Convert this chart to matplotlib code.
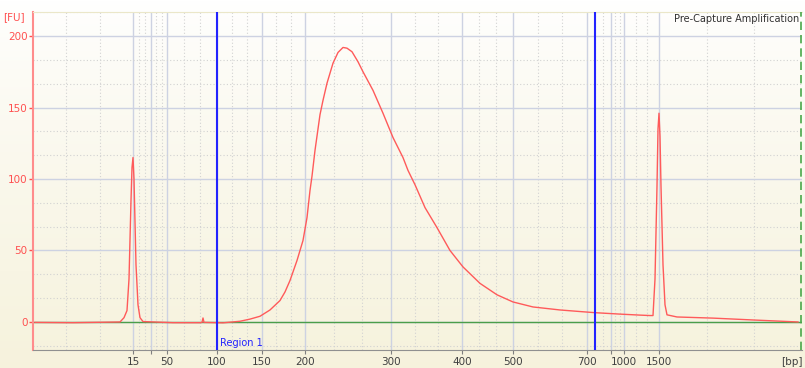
import numpy as np
import matplotlib
matplotlib.use("Agg")
import matplotlib.pyplot as plt

# ladder (bp) and the migration time (s) where each size runs
ladder_bp = [15, 25, 50, 100, 150, 200, 300, 400, 500, 700, 850, 1000, 1500]
ladder_time = [50.0, 51.8, 53.4, 58.4, 62.9, 67.2, 75.8, 82.9, 88.0, 95.4, 97.8, 99.1, 102.6]
hidden_labels = [25, 850]

# electropherogram trace: time (s) vs fluorescence (FU)
trace_time = [40.2, 44.0, 48.7, 49.1, 49.4, 49.6, 49.8, 49.9, 50.0, 50.1, 50.2, 50.3,
              50.5, 50.7, 51.0, 54.0, 56.7, 56.9, 57.0, 57.1, 59.0, 60.7, 61.7, 62.7,
              63.7, 64.7, 65.2, 65.7, 66.4, 67.0, 67.4, 67.7, 67.9, 68.2, 68.7, 69.0,
              69.4, 70.0, 70.5, 71.0, 71.4, 71.9, 72.5, 73.0, 74.0, 75.0, 76.0, 77.0,
              77.5, 78.2, 79.2, 80.4, 81.7, 83.0, 84.7, 86.4, 88.0, 90.0, 92.7, 94.7,
              96.2, 98.7, 100.7, 101.7, 102.0, 102.2, 102.4, 102.5, 102.6, 102.7, 102.8,
              103.0, 103.2, 103.4, 104.4, 108.0, 112.0, 116.5]
trace_fu = [-0.3, -0.5, 0.0, 3.0, 8.0, 30.0, 85.0, 108.0, 115.0, 100.0, 70.0, 40.0,
            12.0, 3.0, 0.3, -0.5, -0.5, -0.3, 2.8, -0.3, -0.6, 0.5, 2.0, 4.0,
            8.4, 15.0, 21.0, 29.0, 43.0, 57.0, 73.0, 92.0, 102.0, 120.0, 145.0, 155.0,
            167.0, 181.0, 188.5, 192.0, 191.5, 189.0, 182.0, 175.0, 162.0, 146.0, 129.0, 115.0,
            106.0, 96.0, 80.0, 66.0, 50.0, 38.5, 27.0, 19.0, 14.0, 10.5, 8.4, 7.3,
            6.5, 5.5, 4.8, 4.5, 4.5, 30.0, 95.0, 135.0, 146.0, 130.0, 95.0,
            40.0, 12.0, 5.0, 3.5, 2.7, 1.4, 0.0]

region_bp = [100, 750]
title = "Pre-Capture Amplification"

t_min, t_max = 40.0, 116.9
fu_min, fu_max = -19.6, 216.8

fig = plt.figure(figsize=(8.05, 3.68), dpi=100)
fig.patch.set_facecolor("white")

# background gradient over the whole figure
bg = fig.add_axes([0, 0, 1, 1], zorder=-5)
grad = np.linspace(0, 1, 256).reshape(-1, 1)
top_c = np.array([1.0, 1.0, 1.0])
bot_c = np.array([0.965, 0.950, 0.865])
img = top_c + (bot_c - top_c) * grad[:, :, None] ** 0.8
bg.imshow(img, aspect="auto", extent=[0, 1, 0, 1])
bg.axis("off")

ax = fig.add_axes([33 / 805, 18 / 368, 769 / 805, 338 / 368])
ax.patch.set_alpha(0)
ax.set_xlim(t_min, t_max)
ax.set_ylim(fu_min, fu_max)

# grid: solid at ladder / FU majors, dotted thirds in between
major_x = [t_min] + ladder_time + [t_max]
for a, b in zip(major_x[:-1], major_x[1:]):
    for k in (1, 2):
        ax.axvline(a + (b - a) * k / 3, color="#d2d2d2", lw=0.8, ls=(0, (1, 2)), zorder=1)
for t in ladder_time:
    ax.axvline(t, color="#cdd2e2", lw=1, zorder=1)
major_y = [0, 50, 100, 150, 200]
for y in np.arange(-50, 250, 50 / 3):
    if abs(y / 50 - round(y / 50)) > 0.01:
        ax.axhline(y, color="#d2d2d2", lw=0.8, ls=(0, (1, 2)), zorder=1)
for y in major_y:
    ax.axhline(y, color="#cdd2e2", lw=1, zorder=1)

# baseline and trace
ax.axhline(0, color="#4a9e4a", lw=1, zorder=2)
ax.plot(trace_time, trace_fu, color="#ff5a5a", lw=1, zorder=3)

# region markers
region_t = np.interp(region_bp, ladder_bp, ladder_time)
for t in region_t:
    ax.axvline(t, color="#2323ff", lw=1.5, zorder=4)
ax.text(region_t[0] + 0.25, -15, "Region 1", color="#2323ff", fontsize=7, va="center", ha="left")
ax.axvline(t_max - 0.15, color="#4aa84a", lw=1.2, ls=(0, (5, 3)), zorder=4)

# axes styling
ax.set_yticks(major_y)
ax.tick_params(axis="y", colors="#ff5050", labelsize=7.5, length=3, width=1, pad=1)
ax.set_xticks(ladder_time)
ax.set_xticklabels(["" if b in hidden_labels else str(b) for b in ladder_bp])
ax.tick_params(axis="x", colors="#808080", labelcolor="#404040", labelsize=7.5, length=3, pad=2)
ax.spines["left"].set_color("#ff8c8c")
ax.spines["left"].set_linewidth(1.5)
ax.spines["bottom"].set_color("#909090")
ax.spines["top"].set_color("#ebe7c9")
ax.spines["right"].set_visible(False)

fig.text(3 / 805, 1 - 17 / 368, "[FU]", color="#ff5050", fontsize=7.5, va="center", ha="left")
fig.text(803 / 805, 1 - 362 / 368, "[bp]", color="#404040", fontsize=7.5, va="center", ha="right")
fig.text(799 / 805, 1 - 19 / 368, title, color="#303030", fontsize=7, va="center", ha="right")

fig.savefig("out.png", dpi=100)
